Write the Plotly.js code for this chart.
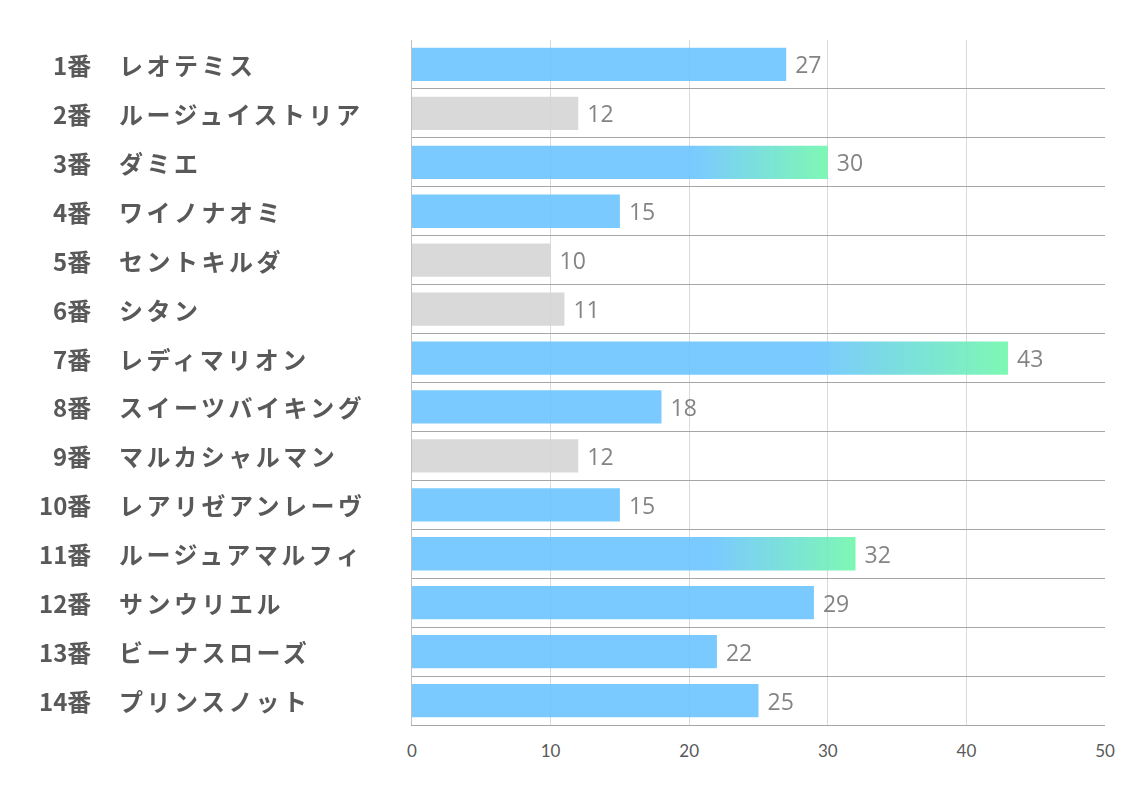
<!DOCTYPE html>
<html><head><meta charset="utf-8">
<script src="https://cdn.plot.ly/plotly-3.0.1.min.js"></script>
<style>html,body{margin:0;padding:0;background:#fff;}#chart{width:1134px;height:793px;}</style>
</head><body><div id="chart"></div>
<script>
const numbers = ["1番","2番","3番","4番","5番","6番","7番","8番","9番","10番","11番","12番","13番","14番"];
const names = ["レオテミス","ルージュイストリア","ダミエ","ワイノナオミ","セントキルダ","シタン","レディマリオン","スイーツバイキング","マルカシャルマン","レアリゼアンレーヴ","ルージュアマルフィ","サンウリエル","ビーナスローズ","プリンスノット"];
const values = [27,12,30,15,10,11,43,18,12,15,32,29,22,25];
const xTicks = [0,10,20,30,40,50];

const BLUE = "rgb(107,197,255)", GRAY = "rgb(213,213,213)";
const GREEN = "rgb(112,247,172)";
const top3 = values.slice().sort((a,b)=>b-a).slice(0,3);
const isGrad = values.map(v => top3.includes(v));
const colors = values.map(v => v <= 12 ? GRAY : BLUE);

const trace = {
  type: "bar", orientation: "h",
  x: values, y: names,
  marker: {color: colors, line: {width: 0}},
  opacity: 0.9,
  text: values.map(String), textposition: "outside",
  textfont: {family: "Open Sans", size: 23, color: "#767676"},
  cliponaxis: false, hoverinfo: "none"
};

const annotations = [];
names.forEach((n, i) => {
  annotations.push({xref: "paper", yref: "y", x: -0.4603, y: n, text: numbers[i], showarrow: false,
    xanchor: "right", yanchor: "middle", font: {family: "Noto Sans CJK JP", size: 24, color: "#595959", weight: "bold"}});
  annotations.push({xref: "paper", yref: "y", x: -0.4257, y: n, text: n, showarrow: false,
    xanchor: "left", yanchor: "middle", font: {family: "Noto Sans CJK JP", size: 24, color: "#595959", weight: "bold"}});
});

const layout = {
  width: 1134, height: 793,
  margin: {l: 412, r: 29, t: 40, b: 68},
  paper_bgcolor: "#fff", plot_bgcolor: "#fff",
  showlegend: false, bargap: 0.32,
  xaxis: {range: [0, 50], tickvals: xTicks, ticktext: xTicks.map(String), showgrid: true, gridcolor: "#d9d9d9", gridwidth: 1,
    zeroline: false, showline: true, linecolor: "#a6a6a6", linewidth: 1, ticks: "",
    tickfont: {family: "Lato", size: 17, color: "#595959"}, ticklabelstandoff: 11},
  yaxis: {type: "category", autorange: "reversed", tickson: "boundaries", showgrid: true, gridcolor: "#a6a6a6", gridwidth: 1,
    showticklabels: false, ticks: "", showline: true, linecolor: "#bfbfbf", zeroline: false},
  annotations: annotations
};

Plotly.newPlot("chart", [trace], layout, {displayModeBar: false, staticPlot: true}).then(gd => {
  const svg = gd.querySelector(".main-svg");
  const NS = "http://www.w3.org/2000/svg";
  let defs = svg.querySelector("defs");
  if (!defs) { defs = document.createElementNS(NS, "defs"); svg.insertBefore(defs, svg.firstChild); }
  const lg = document.createElementNS(NS, "linearGradient");
  lg.setAttribute("id", "barGrad");
  lg.setAttribute("x1", "0"); lg.setAttribute("x2", "1"); lg.setAttribute("y1", "0"); lg.setAttribute("y2", "0");
  [[0, BLUE], [0.68, BLUE], [1, GREEN]].forEach(([o, c]) => {
    const s = document.createElementNS(NS, "stop");
    s.setAttribute("offset", o); s.setAttribute("stop-color", c);
    lg.appendChild(s);
  });
  defs.appendChild(lg);
  const paths = gd.querySelectorAll(".barlayer .trace .point path");
  paths.forEach((p, i) => { if (isGrad[i]) p.style.fill = "url(#barGrad)"; });
  // widen spacing of the horse names, keeping their left edge fixed
  gd.querySelectorAll(".annotation").forEach((a, i) => {
    if (i % 2 === 1) {
      const t = a.querySelector("text");
      if (!t) return;
      const b0 = t.getBBox();
      t.style.letterSpacing = "3.5px";
      const b1 = t.getBBox();
      const x = parseFloat(t.getAttribute("x"));
      if (!isNaN(x)) t.setAttribute("x", x + (b0.x - b1.x));
    }
  });
  gd.querySelectorAll(".barlayer .bartext").forEach(t => {
    const x = parseFloat(t.getAttribute("x"));
    if (!isNaN(x)) t.setAttribute("x", x + 6);
  });
});
</script>
</body></html>
